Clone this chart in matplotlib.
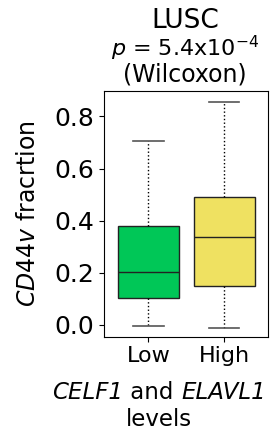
import matplotlib
matplotlib.use('Agg')
import matplotlib.pyplot as plt

# box statistics
groups = ['Low', 'High']
q1 = [0.102, 0.150]
med = [0.205, 0.337]
q3 = [0.381, 0.493]
whislo = [-0.003, -0.013]
whishi = [0.707, 0.857]
colors = ['#00C757', '#EFE161']
yticks = [0.0, 0.2, 0.4, 0.6, 0.8]

W, H = 275, 429
fig = plt.figure(figsize=(W / 100, H / 100), dpi=100)
ax = fig.add_axes([104.3 / W, 1 - 336.7 / H, 164 / W, 246 / H])

stats = []
for i, g in enumerate(groups):
    stats.append({'label': g, 'q1': q1[i], 'med': med[i], 'q3': q3[i],
                  'whislo': whislo[i], 'whishi': whishi[i], 'fliers': []})

bp = ax.bxp(stats, positions=[0, 1], widths=0.8, patch_artist=True,
            showfliers=False,
            boxprops=dict(edgecolor='#222222', linewidth=1.0),
            medianprops=dict(color='#222222', linewidth=1.0),
            whiskerprops=dict(color='black', linestyle=':', linewidth=1.0),
            capprops=dict(color='#555555', linewidth=1.2),
            capwidths=0.4)
for patch, c in zip(bp['boxes'], colors):
    patch.set_facecolor(c)

ax.set_xlim(-0.58, 1.58)
ax.set_ylim(-0.045, 0.899)
ax.set_yticks(yticks)
ax.set_yticklabels(['%.1f' % v for v in yticks], fontsize=18)
ax.set_xticks([0, 1])
ax.set_xticklabels(groups, fontsize=16)

ax.set_ylabel('$CD44v$ fracrtion', fontsize=17)
ax.yaxis.set_label_coords(-0.39, 0.5)

# x label built from pieces so the gene names (digits too) are italic
renderer = fig.canvas.get_renderer()
pieces = [('CELF1', 'italic'), (' and ', 'normal'), ('ELAVL1', 'italic')]
texts = []
total = 0
for s, st in pieces:
    t = fig.text(0, 1 - 399.3 / H, s, fontsize=16.5, style=st, va='baseline')
    w = t.get_window_extent(renderer).width
    texts.append((t, w))
    total += w
x0 = 159 - total / 2
for t, w in texts:
    t.set_x(x0 / W)
    x0 += w
fig.text(159 / W, 1 - 425.5 / H, 'levels', fontsize=16.5, ha='center', va='baseline')

# title lines
cx = 185 / W
fig.text(cx, 1 - 28.3 / H, 'LUSC', fontsize=19, ha='center', va='baseline')
fig.text(cx, 1 - 56 / H, r'$p$ = 5.4x10$^{\mathregular{-4}}$', fontsize=16,
         ha='center', va='baseline')
fig.text(cx, 1 - 81.7 / H, '(Wilcoxon)', fontsize=17, ha='center', va='baseline')

fig.savefig('out.png', dpi=100)
